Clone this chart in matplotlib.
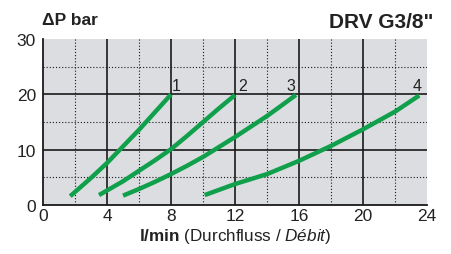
import matplotlib
matplotlib.use("Agg")
import matplotlib.pyplot as plt
from matplotlib.ticker import MultipleLocator

#---------------------------------------data
q1 = [1.7, 3, 4, 5, 6, 7, 8]
p1 = [1.6, 4.9, 7.6, 10.6, 13.6, 16.8, 20]
q2 = [3.5, 5, 6, 7, 8, 9, 10, 11, 12]
p2 = [1.8, 4.3, 6.2, 8.1, 10.1, 12.5, 15, 17.5, 19.9]
q3 = [5, 6, 7, 8, 9, 10, 11, 12, 13, 14, 15, 15.8]
p3 = [1.7, 2.9, 4.2, 5.6, 7.1, 8.7, 10.5, 12.3, 14.2, 16.1, 18.2, 19.9]
q4 = [10.1, 12, 14, 16, 18, 20, 22, 23.5]
p4 = [1.8, 3.8, 5.6, 8.0, 10.7, 13.7, 16.9, 19.8]
curve_names = ['1', '2', '3', '4']
label_x = [8.3, 12.5, 15.5, 23.35]
label_y = [21.6, 21.6, 21.6, 21.6]
xticks = [0, 4, 8, 12, 16, 20, 24]
yticks = [0, 10, 20, 30]

#---------------------------------------style
plt.rcParams['font.family'] = ['Liberation Sans', 'DejaVu Sans']
plt.rcParams['mathtext.fontset'] = 'custom'
plt.rcParams['mathtext.rm'] = 'Liberation Sans'
plt.rcParams['mathtext.it'] = 'Liberation Sans:italic'
plt.rcParams['mathtext.bf'] = 'Liberation Sans:bold'
green = '#10a04c'
txt = '#222222'

fig = plt.figure(figsize=(4.51, 2.55), dpi=100)
ax = fig.add_axes([0.0953, 0.192, 0.852, 0.651])
ax.set_facecolor('#dcdde0')

#---------------------------------------curves
for q, p in [(q1, p1), (q2, p2), (q3, p3), (q4, p4)]:
    ax.plot(q, p, color=green, lw=3.2, solid_capstyle='butt', zorder=3)
for name, lx, ly in zip(curve_names, label_x, label_y):
    ax.text(lx, ly, name, fontsize=11.5, color=txt, ha='center', va='center', zorder=4)

#---------------------------------------axes, grid
ax.set_xlim(0, 24)
ax.set_ylim(0, 30)
ax.set_xticks(xticks)
ax.set_yticks(yticks)
ax.xaxis.set_minor_locator(MultipleLocator(2))
ax.yaxis.set_minor_locator(MultipleLocator(5))
ax.tick_params(which='both', length=0, labelsize=12.5, labelcolor=txt)
ax.tick_params(axis='x', pad=2)
ax.tick_params(axis='y', pad=5)
for x in xticks[1:-1]:
    ax.axvline(x, color='#1a1a1a', lw=1.2, zorder=1)
for y in yticks[1:-1]:
    ax.axhline(y, color='#1a1a1a', lw=1.2, zorder=1)
for x in range(2, 24, 4):
    ax.axvline(x, color='#1a1a1a', lw=0.8, ls=(0, (1, 1.8)), zorder=1)
for y in [5, 15, 25]:
    ax.axhline(y, color='#1a1a1a', lw=0.8, ls=(0, (1, 1.8)), zorder=1)
for s in ['top', 'right']:
    ax.spines[s].set_visible(False)
for s in ['left', 'bottom']:
    ax.spines[s].set_color('#1a1a1a')
    ax.spines[s].set_linewidth(1.3)

#---------------------------------------titles
fig.text(0.093, 0.918, '\u0394P bar', fontsize=12.5, fontweight='bold', color=txt, ha='left', va='center')
fig.text(0.96, 0.91, 'DRV G3/8"', fontsize=15, fontweight='bold', color=txt, ha='right', va='center')
ax.set_xlabel(r'$\bf{l/min}$ (Durchfluss / $\it{Débit)}$', fontsize=12.3, color=txt, labelpad=2)

fig.savefig('out.png', dpi=100)
